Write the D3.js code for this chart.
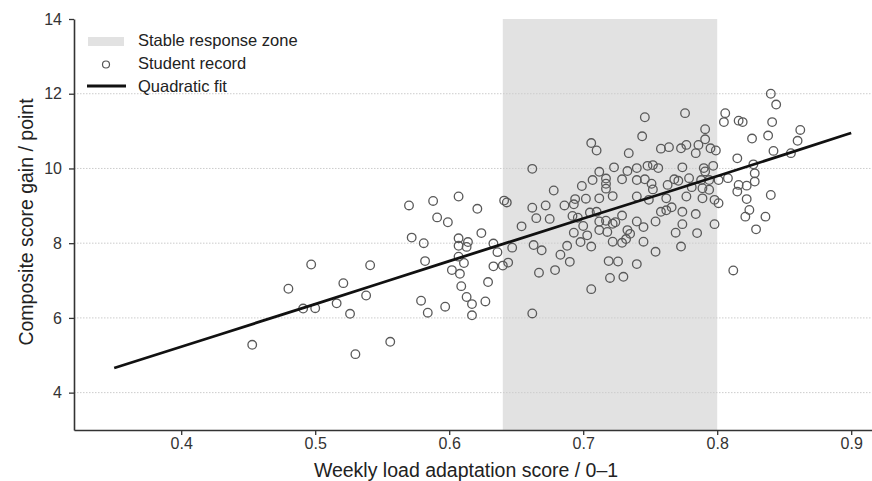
<!DOCTYPE html>
<html>
<head>
<meta charset="utf-8">
<script src="https://cdn.jsdelivr.net/npm/d3@7"></script>
<style>
  body { margin: 0; background: #fff; }
  svg { display: block; font-family: "Liberation Sans", Arial, sans-serif; }
</style>
</head>
<body>
<div id="chart"></div>
<script>
// ------------------------------ DATA ------------------------------
var loadScore = [
  0.453, 0.480, 0.491, 0.500, 0.497, 0.516, 0.521, 0.526, 0.530, 0.538,
  0.541, 0.556, 0.570, 0.572, 0.579, 0.581, 0.582, 0.584, 0.588, 0.591,
  0.597, 0.599, 0.607, 0.621, 0.641, 0.643, 0.662, 0.662, 0.665, 0.654,
  0.624, 0.607, 0.614, 0.607, 0.613, 0.633, 0.647, 0.663, 0.636, 0.607,
  0.611, 0.602, 0.608, 0.633, 0.640, 0.644, 0.667, 0.629, 0.609, 0.613,
  0.617, 0.627, 0.617, 0.662, 0.746, 0.744, 0.706, 0.710, 0.734, 0.758,
  0.764, 0.723, 0.733, 0.740, 0.748, 0.752, 0.756, 0.712, 0.717, 0.717,
  0.717, 0.707, 0.699, 0.729, 0.740, 0.746, 0.751, 0.752, 0.763, 0.678,
  0.672, 0.686, 0.693, 0.694, 0.702, 0.712, 0.722, 0.740, 0.749, 0.762,
  0.675, 0.692, 0.705, 0.710, 0.696, 0.700, 0.712, 0.717, 0.722, 0.724,
  0.729, 0.740, 0.745, 0.754, 0.758, 0.762, 0.712, 0.718, 0.733, 0.735,
  0.732, 0.722, 0.729, 0.693, 0.703, 0.698, 0.688, 0.706, 0.745, 0.669,
  0.683, 0.690, 0.719, 0.726, 0.740, 0.754, 0.679, 0.720, 0.730, 0.706,
  0.776, 0.806, 0.805, 0.791, 0.791, 0.816, 0.819, 0.773, 0.777, 0.786,
  0.784, 0.795, 0.799, 0.815, 0.774, 0.790, 0.797, 0.791, 0.768, 0.771,
  0.779, 0.788, 0.794, 0.801, 0.808, 0.781, 0.777, 0.789, 0.794, 0.840,
  0.844, 0.841, 0.862, 0.826, 0.838, 0.860, 0.842, 0.855, 0.827, 0.828,
  0.828, 0.816, 0.822, 0.815, 0.822, 0.840, 0.824, 0.821, 0.836, 0.829,
  0.812, 0.789, 0.801, 0.798, 0.766, 0.774, 0.784, 0.774, 0.798, 0.769,
  0.785, 0.773
];
var scoreGain = [
  5.28, 6.78, 6.25, 6.26, 7.43, 6.39, 6.93, 6.11, 5.03, 6.60,
  7.41, 5.36, 9.01, 8.15, 6.46, 8.00, 7.52, 6.14, 9.13, 8.69,
  6.30, 8.56, 9.25, 8.92, 9.14, 9.09, 9.99, 8.95, 8.67, 8.45,
  8.27, 8.13, 8.03, 7.93, 7.90, 7.99, 7.88, 7.95, 7.76, 7.64,
  7.47, 7.28, 7.18, 7.38, 7.40, 7.48, 7.21, 6.96, 6.85, 6.56,
  6.37, 6.44, 6.07, 6.12, 11.37, 10.86, 10.68, 10.48, 10.41, 10.53,
  10.57, 10.03, 9.93, 10.01, 10.07, 10.09, 10.01, 9.91, 9.73, 9.59,
  9.46, 9.69, 9.53, 9.71, 9.69, 9.71, 9.59, 9.44, 9.56, 9.41,
  9.01, 9.01, 9.04, 9.18, 9.19, 9.20, 9.26, 9.25, 9.16, 9.20,
  8.65, 8.73, 8.82, 8.84, 8.68, 8.46, 8.58, 8.60, 8.52, 8.56,
  8.74, 8.58, 8.43, 8.58, 8.84, 8.88, 8.35, 8.30, 8.35, 8.25,
  8.11, 8.04, 8.01, 8.28, 8.21, 8.03, 7.93, 7.91, 8.04, 7.81,
  7.69, 7.50, 7.52, 7.51, 7.44, 7.77, 7.28, 7.07, 7.10, 6.77,
  11.48, 11.48, 11.24, 11.05, 10.78, 11.28, 11.24, 10.54, 10.63, 10.63,
  10.41, 10.54, 10.48, 10.27, 10.03, 10.01, 10.07, 9.92, 9.71, 9.67,
  9.74, 9.69, 9.69, 9.69, 9.74, 9.50, 9.25, 9.20, 9.43, 12.00,
  11.71, 11.24, 11.03, 10.80, 10.88, 10.74, 10.47, 10.41, 10.11, 9.87,
  9.65, 9.56, 9.54, 9.38, 9.18, 9.29, 8.89, 8.71, 8.71, 8.37,
  7.27, 9.47, 9.07, 9.16, 8.96, 8.84, 8.78, 8.51, 8.51, 8.28,
  8.27, 7.91
];

// fitted curve
var fitX = [0.35, 0.43, 0.50, 0.60, 0.70, 0.77, 0.85, 0.90];
var fitY = [4.66, 5.57, 6.37, 7.52, 8.66, 9.45, 10.37, 10.95];

var zoneRange = [0.64, 0.80];
var xTicks = [0.4, 0.5, 0.6, 0.7, 0.8, 0.9];
var yTicks = [4, 6, 8, 10, 12, 14];
var gridValues = [4, 6, 8, 10, 12];
var legendLabels = ["Stable response zone", "Student record", "Quadratic fit"];

// ------------------------------ LAYOUT ------------------------------
var width = 872, height = 481;
var plotLeft = 74, plotTop = 19, plotBottom = 430;

var svg = d3.select("#chart").append("svg")
    .attr("width", width)
    .attr("height", height);

var x = d3.scaleLinear().domain([0.32, 0.92]).range([plotLeft, plotLeft + 0.6 * 1340]);
var y = d3.scaleLinear().domain([3, 14]).range([plotBottom, plotTop]);

// shaded zone
svg.append("rect")
    .attr("x", x(zoneRange[0]))
    .attr("y", y(14))
    .attr("width", x(zoneRange[1]) - x(zoneRange[0]))
    .attr("height", y(3) - y(14))
    .attr("fill", "#e2e2e2");

// grid
svg.selectAll("line.grid")
    .data(gridValues)
    .enter().append("line")
    .attr("class", "grid")
    .attr("x1", plotLeft)
    .attr("x2", width)
    .attr("y1", function (d) { return y(d); })
    .attr("y2", function (d) { return y(d); })
    .attr("stroke", "#cccccc")
    .attr("stroke-width", 1)
    .attr("stroke-dasharray", "1.5,1.5");

// points
svg.selectAll("circle.pt")
    .data(d3.range(loadScore.length))
    .enter().append("circle")
    .attr("class", "pt")
    .attr("cx", function (i) { return x(loadScore[i]); })
    .attr("cy", function (i) { return y(scoreGain[i]); })
    .attr("r", 4.3)
    .attr("fill", "none")
    .attr("stroke", "#595959")
    .attr("stroke-width", 1.3);

// fit line
var fitLine = d3.line()
    .x(function (d) { return x(d[0]); })
    .y(function (d) { return y(d[1]); })
    .curve(d3.curveMonotoneX);

svg.append("path")
    .datum(d3.zip(fitX, fitY))
    .attr("d", fitLine)
    .attr("fill", "none")
    .attr("stroke", "#111")
    .attr("stroke-width", 2.8);

// axes
var yAxis = svg.append("g")
    .attr("transform", "translate(" + plotLeft + ",0)")
    .call(d3.axisLeft(y).tickValues(yTicks).tickSize(5).tickSizeOuter(0).tickPadding(7).tickFormat(d3.format("d")));

var xAxis = svg.append("g")
    .attr("transform", "translate(0," + plotBottom + ")")
    .call(d3.axisBottom(x).tickValues(xTicks).tickSize(5).tickSizeOuter(0).tickPadding(3).tickFormat(d3.format(".1f")));

[yAxis, xAxis].forEach(function (g) {
    g.select(".domain").attr("stroke", "#333").attr("stroke-width", 1.6);
    g.selectAll(".tick line").attr("stroke", "#333").attr("stroke-width", 1.3);
    g.selectAll(".tick text").attr("fill", "#333").attr("font-size", "16px")
        .attr("font-family", "Liberation Sans, Arial, sans-serif");
});

// axis titles
svg.append("text")
    .attr("x", 466)
    .attr("y", 477)
    .attr("text-anchor", "middle")
    .attr("font-size", "19.5px")
    .attr("fill", "#222")
    .text("Weekly load adaptation score / 0\u20131");

svg.append("text")
    .attr("transform", "translate(33,222) rotate(-90)")
    .attr("text-anchor", "middle")
    .attr("font-size", "19.5px")
    .attr("fill", "#222")
    .text("Composite score gain / point");

// legend
var legend = svg.append("g");
legend.append("rect")
    .attr("x", 88).attr("y", 37).attr("width", 36).attr("height", 9)
    .attr("fill", "#e2e2e2");
legend.append("circle")
    .attr("cx", 106).attr("cy", 64.5).attr("r", 3.5)
    .attr("fill", "none").attr("stroke", "#555").attr("stroke-width", 1.2);
legend.append("line")
    .attr("x1", 87).attr("x2", 126).attr("y1", 86).attr("y2", 86)
    .attr("stroke", "#111").attr("stroke-width", 2.8);

legend.selectAll("text")
    .data(legendLabels)
    .enter().append("text")
    .attr("x", 138)
    .attr("y", function (d, i) { return 46 + i * 23; })
    .attr("font-size", "16.5px")
    .attr("fill", "#222")
    .text(function (d) { return d; });
</script>
</body>
</html>
